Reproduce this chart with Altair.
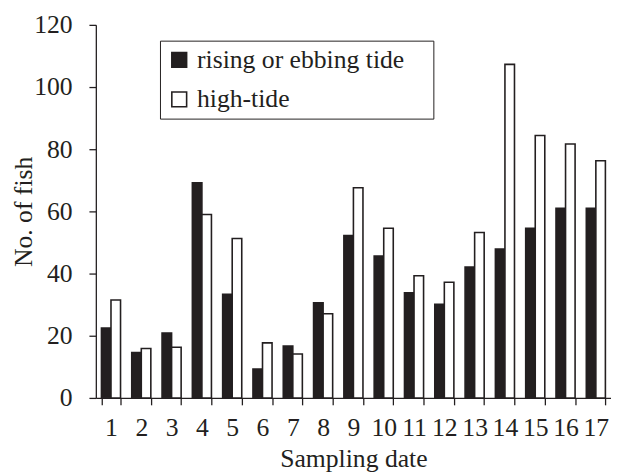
import altair as alt
import pandas as pd

dates = [str(i) for i in range(1, 18)]
rising = [22.5, 14.6, 20.9, 69.2, 33.3, 9.3, 16.7, 30.6, 52.2, 45.6, 33.8, 30.1, 42.1, 47.9, 54.6, 61.0, 61.0]
high = [31.5, 15.9, 16.3, 59.0, 51.3, 17.7, 14.1, 27.1, 67.6, 54.6, 39.3, 37.2, 53.2, 107.3, 84.4, 81.7, 76.3]
series = ["rising or ebbing tide", "high-tide"]
y_ticks = [0, 20, 40, 60, 80, 100, 120]

rows = []
for d, r, h in zip(dates, rising, high):
    rows.append({"date": d, "series": series[0], "fish": r})
    rows.append({"date": d, "series": series[1], "fish": h})
df = pd.DataFrame(rows)

INK = "#231f20"
FONT = "Liberation Serif, Times New Roman, Times, serif"

chart = alt.Chart(df).mark_bar(stroke=INK, strokeWidth=1.6).encode(
    x=alt.X("date:O", sort=dates, title="Sampling date",
            scale=alt.Scale(paddingInner=0.37, paddingOuter=0.185),
            axis=alt.Axis(labelAngle=0, tickBand="extent", tickSize=7, labelPadding=10,
                          titlePadding=6, domainColor=INK, tickColor=INK,
                          labelColor=INK, titleColor=INK, grid=False,
                          labelFont=FONT, titleFont=FONT)),
    xOffset=alt.XOffset("series:N", sort=series, scale=alt.Scale(paddingInner=0, paddingOuter=0)),
    y=alt.Y("fish:Q", title="No. of fish",
            scale=alt.Scale(domain=[0, 120], nice=False),
            axis=alt.Axis(values=y_ticks, tickSize=7, labelPadding=17, titlePadding=-3,
                          domainColor=INK, tickColor=INK, labelColor=INK, titleColor=INK,
                          grid=False, labelFont=FONT, titleFont=FONT)),
    fill=alt.Fill("series:N", sort=series,
                  scale=alt.Scale(domain=series, range=[INK, "white"]),
                  legend=alt.Legend(orient="none", legendX=65, legendY=16,
                                    title="\u00a0", titleOrient="right", titleFontSize=2,
                                    titlePadding=23,
                                    symbolType="square", symbolSize=225,
                                    symbolStrokeColor=INK, symbolStrokeWidth=1.6,
                                    labelFontSize=26, labelColor=INK, labelFont=FONT,
                                    strokeColor=INK, padding=6.5, rowPadding=14,
                                    labelOffset=5, labelLimit=400)),
).properties(
    width=522, height=378,
    autosize=alt.AutoSizeParams(type="none"),
    padding={"left": 89, "top": 14, "right": 0, "bottom": 74},
).configure(font=FONT).configure_view(stroke=None).configure_axis(
    labelFont=FONT, titleFont=FONT, labelFontSize=26, titleFontSize=26,
    titleFontWeight="normal", domainWidth=1.3, tickWidth=1.3,
).configure_legend(labelFont=FONT)

chart.save("out.html", embed_options={"renderer": "svg", "actions": False})
